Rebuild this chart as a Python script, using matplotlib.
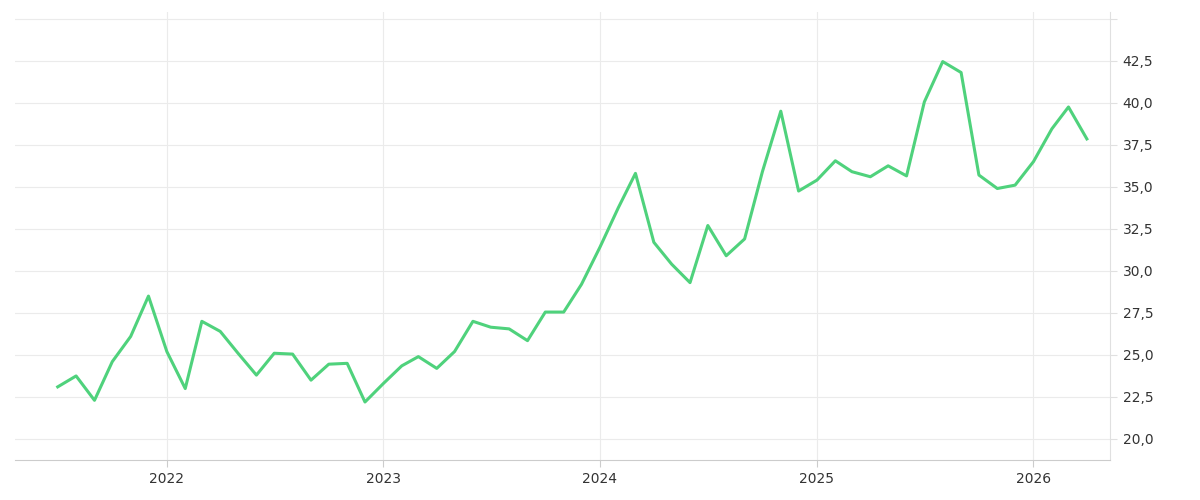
import matplotlib
matplotlib.use("Agg")
import matplotlib.pyplot as plt
import matplotlib.dates as mdates
import pandas as pd
from matplotlib.ticker import FuncFormatter, MultipleLocator

start_month = "2021-07-01"
values = [23.1, 23.75, 22.3, 24.6, 26.1, 28.5, 25.2, 23.0, 27.0, 26.4, 25.1, 23.8,
          25.1, 25.05, 23.5, 24.45, 24.5, 22.2, 23.3, 24.35, 24.9, 24.2, 25.2, 27.0,
          26.65, 26.55, 25.85, 27.55, 27.55, 29.2, 31.4, 33.75, 35.8, 31.7, 30.4, 29.3,
          32.7, 30.9, 31.9, 35.9, 39.5, 34.75, 35.4, 36.55, 35.9, 35.6, 36.25, 35.65,
          40.05, 42.45, 41.8, 35.7, 34.9, 35.1, 36.5, 38.45, 39.75, 37.85]
dates = pd.date_range(start_month, periods=len(values), freq="MS")

fig = plt.figure(figsize=(12, 5), dpi=100)
ax = fig.add_axes([15/1200, 40/500, 1095/1200, 448/500])
ax.plot(dates, values, color="#4fd27c", lw=2.2)
ax.set_ylim(18.75, 45.4)
ax.set_xlim(pd.Timestamp("2021-04-20"), pd.Timestamp("2026-05-10"))
ax.yaxis.set_major_locator(MultipleLocator(2.5))
ax.yaxis.tick_right()
ax.yaxis.set_major_formatter(FuncFormatter(lambda v, p: "" if v > 44 else f"{v:.1f}".replace(".", ",")))
ax.xaxis.set_major_locator(mdates.YearLocator())
ax.xaxis.set_major_formatter(mdates.DateFormatter("%Y"))
ax.grid(True, color="#ebebeb", lw=0.8)
for s in ["top", "left"]:
    ax.spines[s].set_visible(False)
ax.spines["right"].set_color("#e0e0e0")
ax.spines["bottom"].set_color("#cccccc")
ax.tick_params(colors="#333333", labelsize=10, length=5)
ax.tick_params(axis="y", color="#e0e0e0", pad=4)
ax.tick_params(axis="x", color="#cccccc")
fig.savefig("out.png")
